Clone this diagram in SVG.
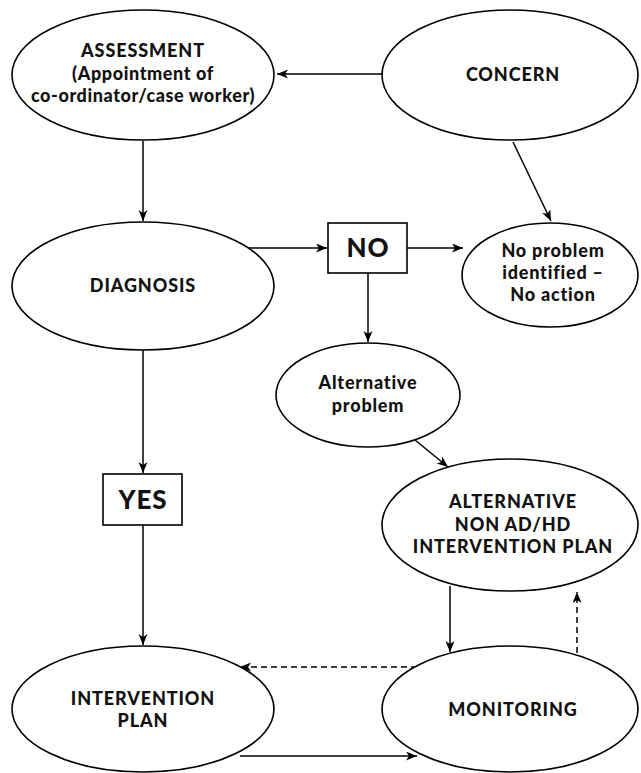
<svg xmlns="http://www.w3.org/2000/svg" width="641" height="773" viewBox="0 0 641 773">
<defs>
<style>
.n{fill:#fff;stroke:#000;stroke-width:1.6}
.t{font-family:Lato,"Open Sans","Liberation Sans",sans-serif;font-weight:900;fill:#111;text-anchor:middle}
.big{font-size:18px;letter-spacing:0.9px}
.mix{font-size:18px;letter-spacing:0.6px}
.sm{font-size:18px;letter-spacing:0.8px}
.box{font-size:26px;letter-spacing:0.8px}
.c{fill:none;stroke:#000;stroke-width:1.5}
.d{stroke-dasharray:6 4}
</style>
<marker id="a" markerWidth="12" markerHeight="10" refX="11" refY="4.5" orient="auto" markerUnits="userSpaceOnUse">
<path d="M0,0 L11,4.5 L0,9 L3,4.5 z" fill="#000"/>
</marker>
</defs>
<rect width="641" height="773" fill="#fff"/>
<g id="connectors">
<line class="c" x1="382" y1="74" x2="277" y2="74" marker-end="url(#a)"/>
<line class="c" x1="143" y1="141" x2="143" y2="221" marker-end="url(#a)"/>
<line class="c" x1="513" y1="142" x2="551" y2="221" marker-end="url(#a)"/>
<line class="c" x1="248" y1="248" x2="327" y2="248" marker-end="url(#a)"/>
<line class="c" x1="407" y1="248" x2="463" y2="248" marker-end="url(#a)"/>
<line class="c" x1="368" y1="273" x2="368" y2="342" marker-end="url(#a)"/>
<line class="c" x1="415" y1="440" x2="448" y2="467" marker-end="url(#a)"/>
<line class="c" x1="143" y1="350" x2="143" y2="473" marker-end="url(#a)"/>
<line class="c" x1="143" y1="525" x2="143" y2="645" marker-end="url(#a)"/>
<line class="c" x1="450" y1="586" x2="450" y2="652" marker-end="url(#a)"/>
<line class="c d" x1="577" y1="653" x2="577" y2="592" marker-end="url(#a)"/>
<line class="c d" x1="417" y1="667" x2="240" y2="667" marker-end="url(#a)"/>
<line class="c" x1="240" y1="756" x2="417" y2="756" marker-end="url(#a)"/>
</g>
<g id="assessment">
<ellipse class="n" cx="143" cy="75" rx="131" ry="65"/>
<text class="t big" x="143" y="57">ASSESSMENT</text>
<text class="t mix" x="143" y="80">(Appointment of</text>
<text class="t mix" x="143" y="102">co-ordinator/case worker)</text>
</g>
<g id="concern">
<ellipse class="n" cx="510" cy="75" rx="128" ry="65"/>
<text class="t big" x="513" y="81">CONCERN</text>
</g>
<g id="diagnosis">
<ellipse class="n" cx="143" cy="286" rx="131" ry="64"/>
<text class="t big" x="143" y="292">DIAGNOSIS</text>
</g>
<g id="no">
<rect class="n" x="328" y="223" width="79" height="50"/>
<text class="t box" x="368" y="257">NO</text>
</g>
<g id="noproblem">
<ellipse class="n" cx="550" cy="275" rx="88" ry="52"/>
<text class="t sm" x="553" y="257">No problem</text>
<text class="t sm" x="553" y="279">identified –</text>
<text class="t sm" x="553" y="301">No action</text>
</g>
<g id="altproblem">
<ellipse class="n" cx="368" cy="395" rx="92" ry="52"/>
<text class="t sm" x="368" y="389">Alternative</text>
<text class="t sm" x="368" y="412">problem</text>
</g>
<g id="yes">
<rect class="n" x="103" y="474" width="79" height="51"/>
<text class="t box" x="143" y="509">YES</text>
</g>
<g id="altplan">
<ellipse class="n" cx="510" cy="525" rx="128" ry="66"/>
<text class="t big" x="513" y="508">ALTERNATIVE</text>
<text class="t big" x="513" y="531">NON AD/HD</text>
<text class="t big" x="513" y="553">INTERVENTION PLAN</text>
</g>
<g id="intervention">
<ellipse class="n" cx="143" cy="709" rx="131" ry="63"/>
<text class="t big" x="143" y="705">INTERVENTION</text>
<text class="t big" x="143" y="727">PLAN</text>
</g>
<g id="monitoring">
<ellipse class="n" cx="510" cy="709" rx="128" ry="63"/>
<text class="t big" x="513" y="716">MONITORING</text>
</g>
</svg>
